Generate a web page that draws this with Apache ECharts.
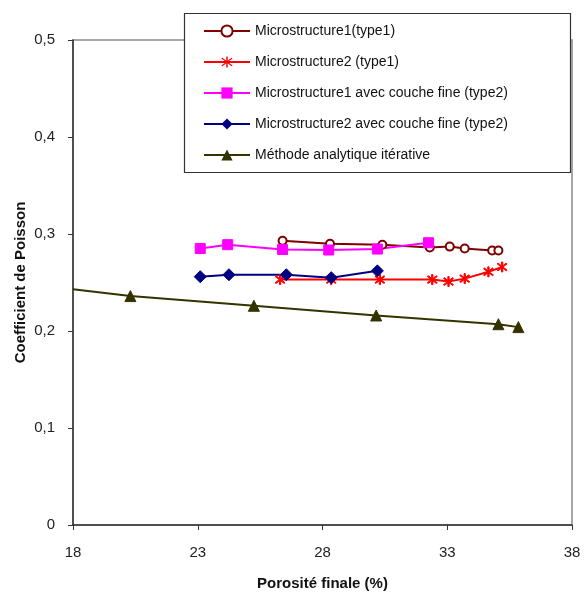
<!DOCTYPE html>
<html><head><meta charset="utf-8">
<script src="https://cdn.jsdelivr.net/npm/echarts@6/dist/echarts.min.js"></script>
<style>html,body{margin:0;padding:0;background:#fff}#c{width:585px;height:599px}</style>
</head><body><div id="c"></div>
<script>
var names = ["Microstructure1(type1)", "Microstructure2 (type1)", "Microstructure1 avec couche fine (type2)", "Microstructure2 avec couche fine (type2)", "Méthode analytique itérative"];
var s1x = [26.4, 28.3, 30.4, 32.3, 33.1, 33.7, 34.8, 35.05];
var s1y = [0.293, 0.290, 0.289, 0.286, 0.287, 0.285, 0.283, 0.283];
var s2x = [26.3, 28.35, 30.3, 32.4, 33.05, 33.7, 34.65, 35.2];
var s2y = [0.253, 0.253, 0.253, 0.253, 0.251, 0.254, 0.261, 0.266];
var s3x = [23.1, 24.2, 26.4, 28.25, 30.2, 32.25];
var s3y = [0.285, 0.289, 0.284, 0.2835, 0.2845, 0.291];
var s4x = [23.1, 24.25, 26.55, 28.35, 30.2];
var s4y = [0.256, 0.258, 0.258, 0.255, 0.262];
var s5x = [18, 20.3, 25.25, 30.15, 35.05, 35.85];
var s5y = [0.243, 0.236, 0.226, 0.216, 0.207, 0.204];
var xTicks = [18, 23, 28, 33, 38];
var yTicks = [0, 0.1, 0.2, 0.3, 0.4, 0.5];

function pairs(xs, ys){ return xs.map(function(x,i){ return [x, ys[i]]; }); }
var star = 'path://M-1,-10L1,-10L1,10L-1,10Z M-6.3,-7.7L7.7,6.3L6.3,7.7L-7.7,-6.3Z M6.3,-7.7L7.7,-6.3L-6.3,7.7L-7.7,6.3Z';
var font = 'Liberation Sans, Arial, sans-serif';

function mk(name, data, color, symbol, size, extra){
  var s = {name:name, type:'line', data:data, symbol:symbol, symbolSize:size, showAllSymbol:true,
    lineStyle:{color:color, width:2}, itemStyle:{color:color, borderColor:color}, emphasis:{disabled:true}, z:3, animation:false};
  if (extra) for (var k in extra) s[k]=extra[k];
  return s;
}
var d5 = pairs(s5x, s5y);
d5[0] = {value: d5[0], symbol: 'none'};

var chart = echarts.init(document.getElementById('c'), null, {renderer:'canvas'});
chart.setOption({
  animation:false,
  backgroundColor:'#fff',
  grid:{left:73, right:13, top:40, bottom:74, show:true, borderColor:'#8a8a8a', borderWidth:1.5, backgroundColor:'transparent'},
  xAxis:{type:'value', min:18, max:38, interval:5,
    name:'Porosité finale (%)', nameLocation:'middle', nameGap:51, nameMoveOverlap:false,
    nameTextStyle:{fontFamily:font, fontWeight:'bold', fontSize:15, color:'#111'},
    axisLine:{show:true, onZero:false, lineStyle:{color:'#333', width:1.5}},
    axisTick:{show:true, inside:false, length:5, lineStyle:{color:'#333'}},
    axisLabel:{fontFamily:font, fontSize:15, color:'#222', margin:20, formatter:function(v){ return xTicks.indexOf(v)>=0 ? String(v) : ''; }},
    splitLine:{show:false}},
  yAxis:{type:'value', min:0, max:0.5, interval:0.1,
    name:'Coefficient de Poisson', nameLocation:'middle', nameGap:45, nameMoveOverlap:false,
    nameTextStyle:{fontFamily:font, fontWeight:'bold', fontSize:15, color:'#111'},
    axisLine:{show:true, onZero:false, lineStyle:{color:'#333', width:1.5}},
    axisTick:{show:true, inside:false, length:5, lineStyle:{color:'#333'}},
    axisLabel:{fontFamily:font, fontSize:15, color:'#222', margin:18, formatter:function(v){
      var t = yTicks.filter(function(y){ return Math.abs(y-v)<1e-9; });
      if(!t.length) return '';
      return v===0 ? '0' : (Math.round(v*10)/10).toFixed(1).replace('.', ','); }},
    splitLine:{show:false}},
  graphic:[{type:'rect', z:10, shape:{x:184.5, y:13.5, width:386, height:159},
    style:{fill:'#fff', stroke:'#333', lineWidth:1.2}}],
  legend:{show:true, orient:'vertical', left:203, top:24, itemGap:17, itemWidth:46, itemHeight:14, z:20,
    padding:0, selectedMode:false,
    textStyle:{fontFamily:font, fontSize:14, color:'#111', lineHeight:14},
    data:names},
  series:[
    mk(names[0], pairs(s1x, s1y), '#800000', 'emptyCircle', 8, {itemStyle:{color:'#800000', borderColor:'#800000', borderWidth:1.5}}),
    mk(names[1], pairs(s2x, s2y), '#ff0000', star, 10),
    mk(names[2], pairs(s3x, s3y), '#ff00ff', 'rect', 10),
    mk(names[3], pairs(s4x, s4y), '#000080', 'diamond', 12),
    mk(names[4], d5, '#333300', 'triangle', 11)
  ]
});
</script></body></html>
